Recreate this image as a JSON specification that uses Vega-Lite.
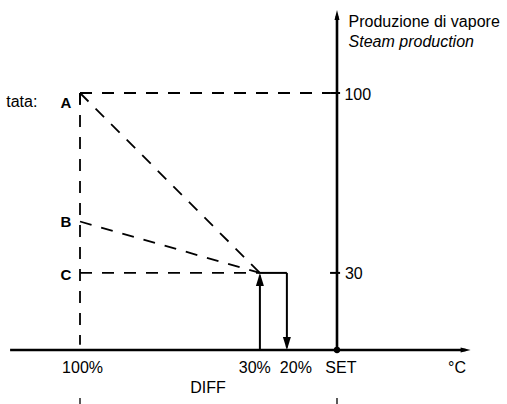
{
  "$schema": "https://vega.github.io/schema/vega-lite/v6.json",
  "width": 507,
  "height": 404,
  "autosize": {"type": "none"},
  "padding": 0,
  "background": "white",
  "config": {"view": {"stroke": null}, "font": "Liberation Sans"},
  "datasets": {
    "guides": [
      {"x": -100, "y": 100, "x2": -2.7, "y2": 100},
      {"x": -100, "y": 100, "x2": -100, "y2": 2},
      {"x": -100, "y": 100, "x2": -30, "y2": 30},
      {"x": -100, "y": 50, "x2": -30, "y2": 30},
      {"x": -100, "y": 30, "x2": -30, "y2": 30}
    ],
    "diffEnds": [
      {"x": -100, "y": -18.7, "x2": -100, "y2": -23},
      {"x": 0, "y": -18.7, "x2": 0, "y2": -23}
    ],
    "axes": [
      {"x": -127.2, "y": 0, "x2": 50, "y2": 0},
      {"x": 0, "y": 0, "x2": 0, "y2": 130}
    ],
    "cycle": [
      {"x": -30, "y": 0, "x2": -30, "y2": 29},
      {"x": -30, "y": 30, "x2": -19.5, "y2": 30},
      {"x": -19.5, "y": 30, "x2": -19.5, "y2": 1},
      {"x": -2.7, "y": 30, "x2": 1.2, "y2": 30},
      {"x": -2.7, "y": 100, "x2": 1.2, "y2": 100},
      {"x": -100, "y": 100, "x2": -95.7, "y2": 100},
      {"x": -100, "y": 100, "x2": -100, "y2": 95.7}
    ],
    "arrows": [
      {"x": 52, "y": 0, "dir": "axis-right"},
      {"x": 0, "y": 132.3, "dir": "axis-up"},
      {"x": -30, "y": 30, "dir": "up"},
      {"x": -19.5, "y": 0, "dir": "down"}
    ],
    "dot": [{"x": 0, "y": 0}],
    "centerLabels": [
      {"x": -99, "y": -7, "label": "100%"},
      {"x": -32, "y": -7, "label": "30%"},
      {"x": -16, "y": -7, "label": "20%"},
      {"x": 1.5, "y": -7, "label": "SET"},
      {"x": 46.7, "y": -7, "label": "°C"},
      {"x": -50.2, "y": -14.8, "label": "DIFF"}
    ],
    "valueLabels": [
      {"x": 2.9, "y": 99.2, "label": "100"},
      {"x": 3.1, "y": 29.6, "label": "30"}
    ],
    "letters": [
      {"x": -105.5, "y": 96.3, "label": "A"},
      {"x": -105.5, "y": 49.8, "label": "B"},
      {"x": -105.5, "y": 29.2, "label": "C"}
    ],
    "cut": [{"x": -116.6, "y": 96.5, "label": "tata:"}],
    "title1": [{"x": 4.5, "y": 125.8, "label": "Produzione di vapore"}],
    "title2": [{"x": 4.5, "y": 117.9, "label": "Steam production"}]
  },
  "encoding": {
    "x": {"field": "x", "type": "quantitative", "axis": null, "scale": {"domain": [-131.13, 66.15], "nice": false, "zero": false}},
    "y": {"field": "y", "type": "quantitative", "axis": null, "scale": {"domain": [-21.01, 136.19], "nice": false, "zero": false}}
  },
  "layer": [
    {
      "data": {"name": "guides"},
      "mark": {"type": "rule", "color": "black", "strokeWidth": 1.8, "strokeDash": [12, 10]},
      "encoding": {"x2": {"field": "x2"}, "y2": {"field": "y2"}}
    },
    {
      "data": {"name": "diffEnds"},
      "mark": {"type": "rule", "color": "black", "strokeWidth": 1.3},
      "encoding": {"x2": {"field": "x2"}, "y2": {"field": "y2"}}
    },
    {
      "data": {"name": "axes"},
      "mark": {"type": "rule", "color": "black", "strokeWidth": 2.6},
      "encoding": {"x2": {"field": "x2"}, "y2": {"field": "y2"}}
    },
    {
      "data": {"name": "cycle"},
      "mark": {"type": "rule", "color": "black", "strokeWidth": 2},
      "encoding": {"x2": {"field": "x2"}, "y2": {"field": "y2"}}
    },
    {
      "data": {"name": "arrows"},
      "mark": {"type": "point", "filled": true, "color": "black", "opacity": 1, "size": 100, "strokeWidth": 0},
      "encoding": {
        "shape": {
          "field": "dir",
          "type": "nominal",
          "legend": null,
          "scale": {
            "domain": ["axis-right", "axis-up", "up", "down"],
            "range": ["M0,0L-2,-0.5L-2,0.5Z", "M0,0L-0.5,2L0.5,2Z", "M0,0L-0.8,2.6L0.8,2.6Z", "M0,0L-0.8,-2.6L0.8,-2.6Z"]
          }
        }
      }
    },
    {
      "data": {"name": "dot"},
      "mark": {"type": "circle", "color": "black", "opacity": 1, "size": 40}
    },
    {
      "data": {"name": "centerLabels"},
      "mark": {"type": "text", "align": "center", "baseline": "middle", "fontSize": 16, "color": "black"},
      "encoding": {"text": {"field": "label"}}
    },
    {
      "data": {"name": "valueLabels"},
      "mark": {"type": "text", "align": "left", "baseline": "middle", "fontSize": 16, "color": "black"},
      "encoding": {"text": {"field": "label"}}
    },
    {
      "data": {"name": "letters"},
      "mark": {"type": "text", "align": "center", "baseline": "middle", "fontSize": 15, "fontWeight": "bold", "color": "black"},
      "encoding": {"text": {"field": "label"}}
    },
    {
      "data": {"name": "cut"},
      "mark": {"type": "text", "align": "right", "baseline": "middle", "fontSize": 16, "color": "black"},
      "encoding": {"text": {"field": "label"}}
    },
    {
      "data": {"name": "title1"},
      "mark": {"type": "text", "align": "left", "baseline": "alphabetic", "fontSize": 16, "color": "black"},
      "encoding": {"text": {"field": "label"}}
    },
    {
      "data": {"name": "title2"},
      "mark": {"type": "text", "align": "left", "baseline": "alphabetic", "fontSize": 16, "fontStyle": "italic", "color": "black"},
      "encoding": {"text": {"field": "label"}}
    }
  ]
}
